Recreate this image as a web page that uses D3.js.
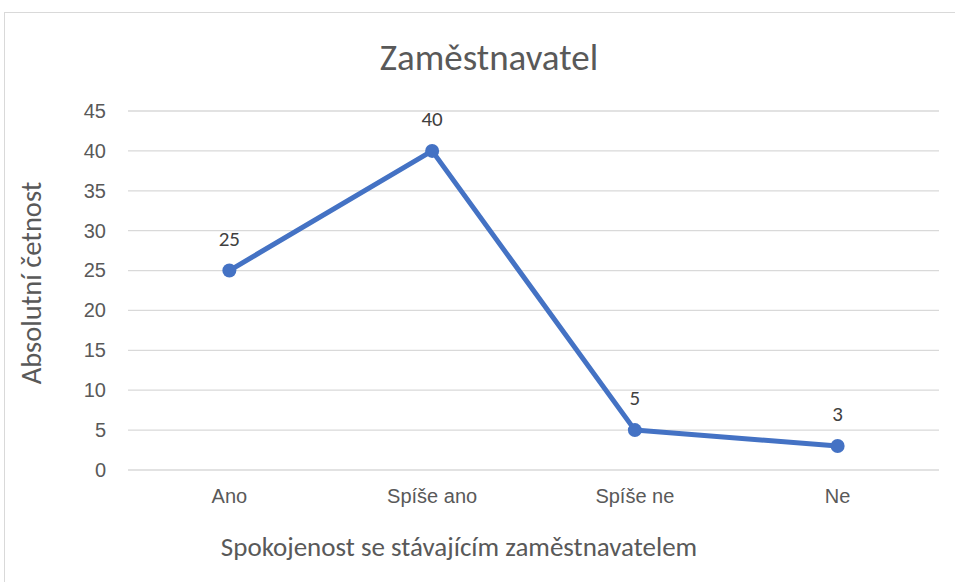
<!DOCTYPE html>
<html>
<head>
<meta charset="utf-8">
<script src="https://cdn.jsdelivr.net/npm/d3@7"></script>
<style>
  body { margin: 0; background: #fff; }
  svg { display: block; font-family: Carlito, "Open Sans", "Noto Sans", sans-serif; }
</style>
</head>
<body>
<div id="chart"></div>
<script>
// chart data
var categories = ["Ano", "Spíše ano", "Spíše ne", "Ne"];
var values = [25, 40, 5, 3];
var yTicks = [0, 5, 10, 15, 20, 25, 30, 35, 40, 45];
var title = "Zaměstnavatel";
var xTitle = "Spokojenost se stávajícím zaměstnavatelem";
var yTitle = "Absolutní četnost";

var width = 955, height = 582;
var plot = {left: 128, right: 939, top: 111, bottom: 470};

var svg = d3.select("#chart").append("svg")
    .attr("width", width)
    .attr("height", height);

// outer frame of the chart area
svg.append("rect")
    .attr("x", 4.5).attr("y", 12.5)
    .attr("width", 1000).attr("height", 1000)
    .attr("fill", "none")
    .attr("stroke", "#d9d9d9");

var x = d3.scaleBand().domain(categories).range([plot.left, plot.right]);
var y = d3.scaleLinear().domain([0, 45]).range([plot.bottom, plot.top]);

// gridlines
svg.append("g").selectAll("line")
    .data(yTicks)
    .enter().append("line")
    .attr("x1", plot.left).attr("x2", plot.right)
    .attr("y1", function(d) { return y(d); })
    .attr("y2", function(d) { return y(d); })
    .attr("stroke", "#d9d9d9")
    .attr("stroke-width", 1.3);

// y axis labels
var yAxis = svg.append("g")
    .attr("transform", "translate(" + (plot.left - 22) + ",0)")
    .call(d3.axisLeft(y).tickValues(yTicks).tickSize(0).tickPadding(0));
yAxis.select(".domain").remove();
yAxis.selectAll("text")
    .attr("fill", "#595959")
    .style("font-size", "20px");

// x axis labels
var xAxis = svg.append("g")
    .attr("transform", "translate(0," + (plot.bottom + 19) + ")")
    .call(d3.axisBottom(x).tickSize(0).tickPadding(0));
xAxis.select(".domain").remove();
xAxis.selectAll("text")
    .attr("fill", "#595959")
    .style("font-size", "20px");

// title
svg.append("text")
    .attr("x", 489).attr("y", 70)
    .attr("text-anchor", "middle")
    .attr("fill", "#595959")
    .style("font-size", "37px")
    .text(title);

// axis titles
svg.append("text")
    .attr("x", 459).attr("y", 556)
    .attr("text-anchor", "middle")
    .attr("fill", "#595959")
    .style("font-size", "27px")
    .text(xTitle);

svg.append("text")
    .attr("transform", "translate(41," + 283 + ") rotate(-90)")
    .attr("text-anchor", "middle")
    .attr("fill", "#595959")
    .style("font-size", "28.5px")
    .text(yTitle);

// line
var cx = function(d, i) { return x(categories[i]) + x.bandwidth() / 2; };
var line = d3.line()
    .x(cx)
    .y(function(d) { return y(d); });

svg.append("path")
    .datum(values)
    .attr("d", line)
    .attr("fill", "none")
    .attr("stroke", "#4472c4")
    .attr("stroke-width", 5)
    .attr("stroke-linejoin", "round");

svg.append("g").selectAll("circle")
    .data(values)
    .enter().append("circle")
    .attr("cx", cx)
    .attr("cy", function(d) { return y(d); })
    .attr("r", 7)
    .attr("fill", "#4472c4");

// data labels
svg.append("g").selectAll("text")
    .data(values)
    .enter().append("text")
    .attr("x", cx)
    .attr("y", function(d) { return y(d) - 25; })
    .attr("text-anchor", "middle")
    .attr("fill", "#404040")
    .style("font-size", "21px")
    .text(function(d) { return d; });
</script>
</body>
</html>
